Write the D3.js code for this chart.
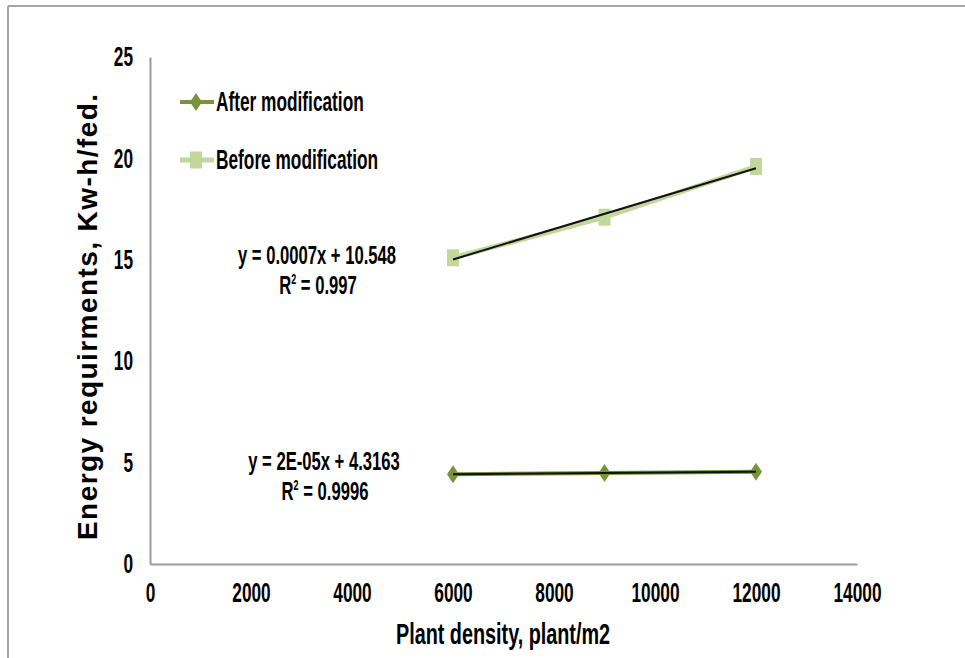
<!DOCTYPE html>
<html>
<head>
<meta charset="utf-8">
<script src="https://cdn.jsdelivr.net/npm/d3@7"></script>
<style>
  body { margin: 0; background: #fff; }
  svg text { fill: #000; }
  .narrow { font-family: "Liberation Sans", Arial, sans-serif; font-weight: bold; }
</style>
</head>
<body>
<svg id="chart" width="965" height="658"></svg>
<script>
// Data
const density = [6000, 9000, 12000];
const afterValues = [4.42, 4.49, 4.55];
const beforeValues = [15.1, 17.1, 19.6];
const xTicks = [0, 2000, 4000, 6000, 8000, 10000, 12000, 14000];
const yTicks = [0, 5, 10, 15, 20, 25];
const afterLabel = ['y = 2E-05x + 4.3163', '0.9996'];
const beforeLabel = ['y = 0.0007x + 10.548', '0.997'];

const svg = d3.select('#chart');
const squeeze = 0.64; // the original uses a condensed bold face

// squeeze text horizontally around its anchor point
function narrow(sel, s = squeeze) {
    sel.each(function () {
        const t = d3.select(this);
        const tx = +t.attr('x') || 0, ty = +t.attr('y') || 0;
        t.attr('x', 0).attr('y', 0)
            .attr('transform', `translate(${tx},${ty}) scale(${s},1)`);
    });
}

// frame of the figure
svg.append('line').attr('x1', 8).attr('x2', 965).attr('y1', 6).attr('y2', 6)
    .attr('stroke', '#a6a6a6').attr('stroke-width', 2);
svg.append('line').attr('x1', 8).attr('x2', 8).attr('y1', 6).attr('y2', 658)
    .attr('stroke', '#a6a6a6').attr('stroke-width', 2);

const x = d3.scaleLinear().domain([0, 14000]).range([150, 857]);
const y = d3.scaleLinear().domain([0, 25]).range([564, 57]);

// axes
const xAxis = svg.append('g').attr('transform', `translate(0,${y(0)})`)
    .call(d3.axisBottom(x).tickValues(xTicks).tickSize(0).tickPadding(19).tickFormat(d3.format('d')));
const yAxis = svg.append('g').attr('transform', `translate(${x(0)},0)`)
    .call(d3.axisLeft(y).tickValues(yTicks).tickSize(0).tickPadding(17));
[xAxis, yAxis].forEach(g => {
    g.select('.domain').attr('stroke', '#9a9a9a').attr('stroke-width', 2);
    g.selectAll('text').attr('class', 'narrow').attr('font-size', 27).attr('fill', '#000')
        .call(narrow);
});

// axis titles
svg.append('text').attr('class', 'narrow')
    .attr('x', 503).attr('y', 644).attr('text-anchor', 'middle')
    .attr('font-size', 30).text('Plant density, plant/m2')
    .call(narrow, 0.66);
svg.append('text')
    .attr('transform', 'translate(97,317) rotate(-90)')
    .attr('text-anchor', 'middle')
    .attr('font-family', '"Liberation Sans", Arial, sans-serif')
    .attr('font-weight', 'bold').attr('font-size', 28)
    .attr('textLength', 446).attr('lengthAdjust', 'spacing')
    .text('Energy requirments,  Kw-h/fed.');

// least squares trend
function fit(xs, ys) {
    const mx = d3.mean(xs), my = d3.mean(ys);
    const b = d3.sum(xs, (v, i) => (v - mx) * (ys[i] - my)) / d3.sum(xs, v => (v - mx) ** 2);
    return v => my + b * (v - mx);
}

const line = d3.line().x(d => x(d[0])).y(d => y(d[1]));
const diamond = 'M0,-9L6,0L0,9L-6,0Z';
const square = 'M-6,-8.5H6V8.5H-6Z';

const series = [
    {values: beforeValues, color: '#c3d69b', width: 5, marker: square},
    {values: afterValues, color: '#77933c', width: 4, marker: diamond}
];

series.forEach(s => {
    const pts = density.map((d, i) => [d, s.values[i]]);
    svg.append('path').attr('d', line(pts)).attr('fill', 'none')
        .attr('stroke', s.color).attr('stroke-width', s.width);
    svg.append('g').selectAll('path').data(pts).enter().append('path')
        .attr('d', s.marker)
        .attr('transform', d => `translate(${x(d[0])},${y(d[1])})`)
        .attr('fill', s.color);
    const f = fit(density, s.values);
    const ends = [density[0], density[density.length - 1]];
    svg.append('path').attr('d', line(ends.map(v => [v, f(v)])))
        .attr('fill', 'none').attr('stroke', '#111').attr('stroke-width', 2);
});

// trend equations
function eqLabel(lines, cx, cy) {
    svg.append('text').attr('class', 'narrow').attr('font-size', 26)
        .attr('x', cx).attr('y', cy).attr('text-anchor', 'middle').text(lines[0])
        .call(narrow);
    const t = svg.append('text').attr('class', 'narrow').attr('font-size', 26)
        .attr('x', cx + 1).attr('y', cy + 30).attr('text-anchor', 'middle');
    t.append('tspan').text('R');
    t.append('tspan').attr('font-size', 14).attr('dy', -10).text('2');
    t.append('tspan').attr('dy', 10).text(' = ' + lines[1]);
    t.call(narrow);
}
eqLabel(beforeLabel, 317, 264);
eqLabel(afterLabel, 324, 470);

// legend
const legend = [
    {name: 'After modification', color: '#77933c', width: 4, marker: diamond, y: 102},
    {name: 'Before modification', color: '#c3d69b', width: 5, marker: square, y: 160}
];
legend.forEach(l => {
    svg.append('line').attr('x1', 180).attr('x2', 214).attr('y1', l.y).attr('y2', l.y)
        .attr('stroke', l.color).attr('stroke-width', l.width);
    svg.append('path').attr('d', l.marker).attr('transform', `translate(196,${l.y})`)
        .attr('fill', l.color);
    svg.append('text').attr('class', 'narrow').attr('font-size', 27)
        .attr('x', 216).attr('y', l.y + 9).text(l.name)
        .call(narrow);
});
</script>
</body>
</html>
